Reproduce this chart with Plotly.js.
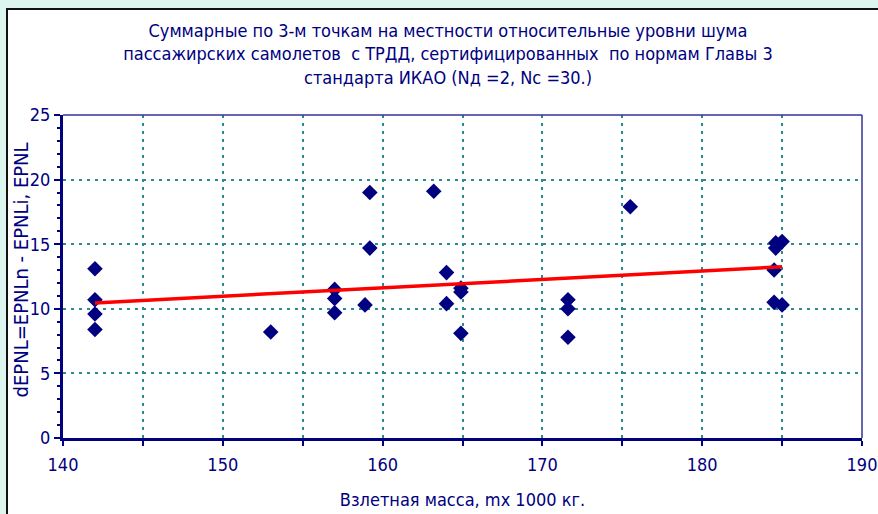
<!DOCTYPE html>
<html>
<head>
<meta charset="utf-8">
<script src="https://cdn.plot.ly/plotly-3.0.1.min.js"></script>
<style>
  html, body { margin:0; padding:0; width:878px; height:514px; overflow:hidden; background:#dcf5ef; }
  #frame { position:absolute; left:6px; top:8px; width:880px; height:514px; border:2px solid #111; background:#fff; }
  #chart { width:880px; height:514px; }
</style>
</head>
<body>
<div id="frame"><div id="chart"></div></div>
<script>
// Scatter points: takeoff mass (x 1000 kg) and relative noise level
const massX = [142.0, 142.0, 142.0, 142.0, 153.0, 157.0, 157.0, 157.0, 158.9, 159.2, 159.2,
               163.2, 164.0, 164.0, 164.9, 164.9, 164.9, 171.6, 171.6, 171.6, 175.5,
               184.6, 185.0, 184.6, 184.5, 184.5, 185.0];
const noiseY = [13.1, 10.7, 9.6, 8.4, 8.2, 11.5, 10.8, 9.7, 10.3, 19.0, 14.7,
                19.1, 12.8, 10.4, 11.6, 11.3, 8.1, 10.7, 10.0, 7.8, 17.9,
                15.1, 15.2, 14.7, 13.0, 10.5, 10.3];
// Trend line
const trendX = [142, 185];
const trendY = [10.45, 13.25];
// Axis ticks
const xTicks = [140, 150, 160, 170, 180, 190];
const yTicks = [0, 5, 10, 15, 20, 25];

const navy = '#000080';
const gridCol = '#2a8c8c';
const fontFam = '"DejaVu Sans Condensed", "Liberation Sans Narrow", sans-serif';

const traces = [
  { x: massX, y: noiseY, type: 'scatter', mode: 'markers',
    marker: { symbol: 'diamond', size: 12, color: navy, line: { width: 0 } },
    hoverinfo: 'x+y', showlegend: false },
  { x: trendX, y: trendY, type: 'scatter', mode: 'lines',
    line: { color: '#ff0000', width: 3.5 }, showlegend: false }
];

const layout = {
  width: 880, height: 514,
  margin: { l: 55, r: 26, t: 105, b: 86 },
  paper_bgcolor: '#ffffff', plot_bgcolor: '#ffffff',
  font: { family: fontFam, color: navy, size: 18 },
  title: {
    text: 'Суммарные по 3-м точкам на местности относительные уровни шума<br>пассажирских самолетов  с ТРДД, сертифицированных  по нормам Главы 3<br>стандарта ИКАО (Nд =2, Nc =30.)',
    font: { family: fontFam, color: navy, size: 18 },
    x: 0.5, xref: 'container', xanchor: 'center',
    y: 1 - 27/514, yref: 'container', yanchor: 'top'
  },
  xaxis: {
    range: [140, 190], tickvals: xTicks, ticktext: xTicks.map(String),
    ticks: 'outside', ticklen: 5, tickwidth: 2, tickcolor: navy,
    showline: true, linecolor: navy, linewidth: 3, mirror: false,
    showgrid: true, gridcolor: gridCol, gridwidth: 2, griddash: '3px,5px',
    zeroline: false, ticklabelstandoff: 3,
    tickfont: { family: fontFam, color: navy, size: 18 },
    minor: { dtick: 5, tick0: 140, ticks: 'outside', ticklen: 5, tickwidth: 2, tickcolor: navy,
             showgrid: true, gridcolor: gridCol, gridwidth: 2, griddash: '3px,5px' },
    title: { text: 'Взлетная масса, mх 1000 кг.', font: { family: fontFam, color: navy, size: 18 }, standoff: 20 }
  },
  yaxis: {
    range: [0, 25], tickvals: yTicks, ticktext: yTicks.map(String),
    ticks: 'outside', ticklen: 6, tickwidth: 2, tickcolor: navy,
    showline: true, linecolor: navy, linewidth: 3, mirror: false,
    showgrid: true, gridcolor: gridCol, gridwidth: 2, griddash: '3px,5px',
    zeroline: false,
    tickfont: { family: fontFam, color: navy, size: 18 },
    minor: { dtick: 1, tick0: 0, ticks: 'outside', ticklen: 3, tickwidth: 2, tickcolor: navy, showgrid: false }
  },
  shapes: [
    { type: 'line', xref: 'paper', yref: 'paper', x0: 0, x1: 1, y0: 1, y1: 1, line: { color: '#333399', width: 1.5 }, layer: 'above' },
    { type: 'line', xref: 'paper', yref: 'paper', x0: 1, x1: 1, y0: 0, y1: 1, line: { color: '#333399', width: 1.5 }, layer: 'above' }
  ],
  annotations: [
    { text: 'dEPNL=EPNLn - EPNLi, EPNL', textangle: -90, showarrow: false,
      xref: 'paper', yref: 'paper', x: -0.0525, y: 0.118, xanchor: 'center', yanchor: 'bottom',
      font: { family: fontFam, color: navy, size: 20 } }
  ]
};

Plotly.newPlot('chart', traces, layout, { displayModeBar: false, staticPlot: true });
</script>
</body>
</html>
